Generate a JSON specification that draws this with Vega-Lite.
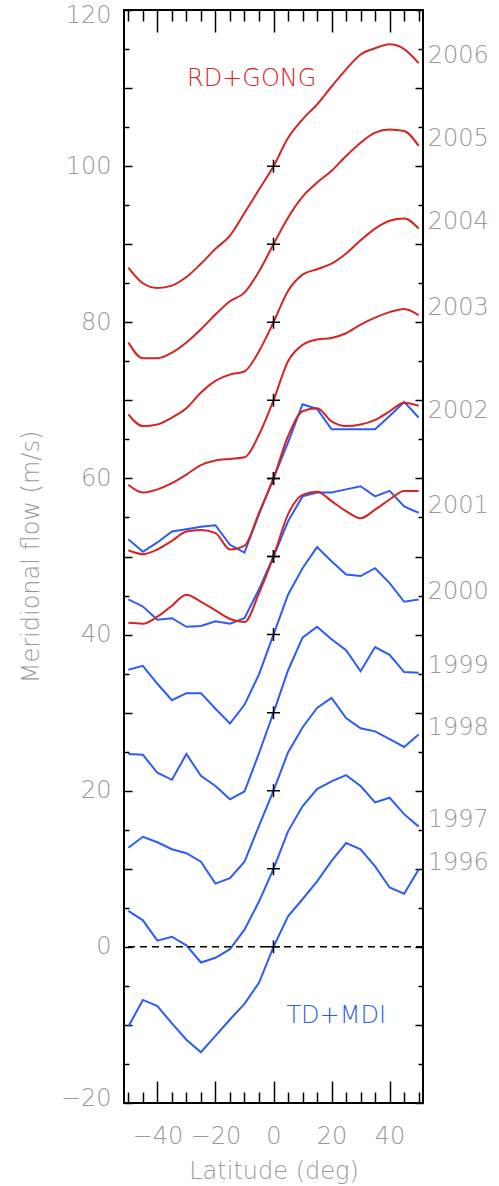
{
  "$schema": "https://vega.github.io/schema/vega-lite/v6.json",
  "width": 299,
  "height": 1093,
  "autosize": {"type": "none"},
  "padding": {"left": 124, "top": 10, "right": 76, "bottom": 83},
  "background": "white",
  "config": {
    "view": {"stroke": "black", "strokeWidth": 2},
    "font": "DejaVu Sans",
    "axis": {
      "domain": false,
      "grid": false,
      "tickColor": "black",
      "tickWidth": 1.5,
      "labelColor": "#999999",
      "labelFont": "DejaVu Sans",
      "labelFontSize": 24,
      "labelFontWeight": 200,
      "labelOverlap": false,
      "labelFlush": false,
      "titleColor": "#999999",
      "titleFont": "DejaVu Sans",
      "titleFontSize": 24,
      "titleFontWeight": 200
    }
  },
  "datasets": {
    "flow": [
      {"src": "TD+MDI", "year": 1996, "lat": -50, "v": -10.2}, {"src": "TD+MDI", "year": 1996, "lat": -45, "v": -6.8}, {"src": "TD+MDI", "year": 1996, "lat": -40, "v": -7.6}, {"src": "TD+MDI", "year": 1996, "lat": -35, "v": -9.8}, {"src": "TD+MDI", "year": 1996, "lat": -30, "v": -11.9}, {"src": "TD+MDI", "year": 1996, "lat": -25, "v": -13.5}, {"src": "TD+MDI", "year": 1996, "lat": -20, "v": -11.4}, {"src": "TD+MDI", "year": 1996, "lat": -15, "v": -9.3}, {"src": "TD+MDI", "year": 1996, "lat": -10, "v": -7.3}, {"src": "TD+MDI", "year": 1996, "lat": -5, "v": -4.6}, {"src": "TD+MDI", "year": 1996, "lat": 0, "v": 0}, {"src": "TD+MDI", "year": 1996, "lat": 5, "v": 3.9}, {"src": "TD+MDI", "year": 1996, "lat": 10, "v": 6.1}, {"src": "TD+MDI", "year": 1996, "lat": 15, "v": 8.4}, {"src": "TD+MDI", "year": 1996, "lat": 20, "v": 11.0}, {"src": "TD+MDI", "year": 1996, "lat": 25, "v": 13.3}, {"src": "TD+MDI", "year": 1996, "lat": 30, "v": 12.5}, {"src": "TD+MDI", "year": 1996, "lat": 35, "v": 10.3}, {"src": "TD+MDI", "year": 1996, "lat": 40, "v": 7.6}, {"src": "TD+MDI", "year": 1996, "lat": 45, "v": 6.8}, {"src": "TD+MDI", "year": 1996, "lat": 50, "v": 9.9},
      {"src": "TD+MDI", "year": 1997, "lat": -50, "v": 4.6}, {"src": "TD+MDI", "year": 1997, "lat": -45, "v": 3.4}, {"src": "TD+MDI", "year": 1997, "lat": -40, "v": 0.8}, {"src": "TD+MDI", "year": 1997, "lat": -35, "v": 1.3}, {"src": "TD+MDI", "year": 1997, "lat": -30, "v": 0.2}, {"src": "TD+MDI", "year": 1997, "lat": -25, "v": -2.0}, {"src": "TD+MDI", "year": 1997, "lat": -20, "v": -1.4}, {"src": "TD+MDI", "year": 1997, "lat": -15, "v": -0.3}, {"src": "TD+MDI", "year": 1997, "lat": -10, "v": 2.2}, {"src": "TD+MDI", "year": 1997, "lat": -5, "v": 5.8}, {"src": "TD+MDI", "year": 1997, "lat": 0, "v": 10}, {"src": "TD+MDI", "year": 1997, "lat": 5, "v": 14.8}, {"src": "TD+MDI", "year": 1997, "lat": 10, "v": 18.0}, {"src": "TD+MDI", "year": 1997, "lat": 15, "v": 20.2}, {"src": "TD+MDI", "year": 1997, "lat": 20, "v": 21.2}, {"src": "TD+MDI", "year": 1997, "lat": 25, "v": 22.0}, {"src": "TD+MDI", "year": 1997, "lat": 30, "v": 20.6}, {"src": "TD+MDI", "year": 1997, "lat": 35, "v": 18.5}, {"src": "TD+MDI", "year": 1997, "lat": 40, "v": 19.1}, {"src": "TD+MDI", "year": 1997, "lat": 45, "v": 17.0}, {"src": "TD+MDI", "year": 1997, "lat": 50, "v": 15.4},
      {"src": "TD+MDI", "year": 1998, "lat": -50, "v": 12.7}, {"src": "TD+MDI", "year": 1998, "lat": -45, "v": 14.1}, {"src": "TD+MDI", "year": 1998, "lat": -40, "v": 13.4}, {"src": "TD+MDI", "year": 1998, "lat": -35, "v": 12.5}, {"src": "TD+MDI", "year": 1998, "lat": -30, "v": 12.0}, {"src": "TD+MDI", "year": 1998, "lat": -25, "v": 10.9}, {"src": "TD+MDI", "year": 1998, "lat": -20, "v": 8.1}, {"src": "TD+MDI", "year": 1998, "lat": -15, "v": 8.8}, {"src": "TD+MDI", "year": 1998, "lat": -10, "v": 10.9}, {"src": "TD+MDI", "year": 1998, "lat": -5, "v": 15.5}, {"src": "TD+MDI", "year": 1998, "lat": 0, "v": 20}, {"src": "TD+MDI", "year": 1998, "lat": 5, "v": 24.9}, {"src": "TD+MDI", "year": 1998, "lat": 10, "v": 28.1}, {"src": "TD+MDI", "year": 1998, "lat": 15, "v": 30.6}, {"src": "TD+MDI", "year": 1998, "lat": 20, "v": 31.9}, {"src": "TD+MDI", "year": 1998, "lat": 25, "v": 29.3}, {"src": "TD+MDI", "year": 1998, "lat": 30, "v": 28.0}, {"src": "TD+MDI", "year": 1998, "lat": 35, "v": 27.6}, {"src": "TD+MDI", "year": 1998, "lat": 40, "v": 26.6}, {"src": "TD+MDI", "year": 1998, "lat": 45, "v": 25.6}, {"src": "TD+MDI", "year": 1998, "lat": 50, "v": 27.2},
      {"src": "TD+MDI", "year": 1999, "lat": -50, "v": 24.7}, {"src": "TD+MDI", "year": 1999, "lat": -45, "v": 24.6}, {"src": "TD+MDI", "year": 1999, "lat": -40, "v": 22.3}, {"src": "TD+MDI", "year": 1999, "lat": -35, "v": 21.4}, {"src": "TD+MDI", "year": 1999, "lat": -30, "v": 24.7}, {"src": "TD+MDI", "year": 1999, "lat": -25, "v": 21.9}, {"src": "TD+MDI", "year": 1999, "lat": -20, "v": 20.6}, {"src": "TD+MDI", "year": 1999, "lat": -15, "v": 18.9}, {"src": "TD+MDI", "year": 1999, "lat": -10, "v": 19.9}, {"src": "TD+MDI", "year": 1999, "lat": -5, "v": 24.8}, {"src": "TD+MDI", "year": 1999, "lat": 0, "v": 30}, {"src": "TD+MDI", "year": 1999, "lat": 5, "v": 35.4}, {"src": "TD+MDI", "year": 1999, "lat": 10, "v": 39.6}, {"src": "TD+MDI", "year": 1999, "lat": 15, "v": 41.0}, {"src": "TD+MDI", "year": 1999, "lat": 20, "v": 39.4}, {"src": "TD+MDI", "year": 1999, "lat": 25, "v": 38.0}, {"src": "TD+MDI", "year": 1999, "lat": 30, "v": 35.3}, {"src": "TD+MDI", "year": 1999, "lat": 35, "v": 38.4}, {"src": "TD+MDI", "year": 1999, "lat": 40, "v": 37.4}, {"src": "TD+MDI", "year": 1999, "lat": 45, "v": 35.2}, {"src": "TD+MDI", "year": 1999, "lat": 50, "v": 35.1},
      {"src": "TD+MDI", "year": 2000, "lat": -50, "v": 35.5}, {"src": "TD+MDI", "year": 2000, "lat": -45, "v": 36.0}, {"src": "TD+MDI", "year": 2000, "lat": -40, "v": 33.7}, {"src": "TD+MDI", "year": 2000, "lat": -35, "v": 31.6}, {"src": "TD+MDI", "year": 2000, "lat": -30, "v": 32.5}, {"src": "TD+MDI", "year": 2000, "lat": -25, "v": 32.5}, {"src": "TD+MDI", "year": 2000, "lat": -20, "v": 30.5}, {"src": "TD+MDI", "year": 2000, "lat": -15, "v": 28.6}, {"src": "TD+MDI", "year": 2000, "lat": -10, "v": 31.0}, {"src": "TD+MDI", "year": 2000, "lat": -5, "v": 34.9}, {"src": "TD+MDI", "year": 2000, "lat": 0, "v": 40}, {"src": "TD+MDI", "year": 2000, "lat": 5, "v": 45.1}, {"src": "TD+MDI", "year": 2000, "lat": 10, "v": 48.5}, {"src": "TD+MDI", "year": 2000, "lat": 15, "v": 51.2}, {"src": "TD+MDI", "year": 2000, "lat": 20, "v": 49.4}, {"src": "TD+MDI", "year": 2000, "lat": 25, "v": 47.7}, {"src": "TD+MDI", "year": 2000, "lat": 30, "v": 47.5}, {"src": "TD+MDI", "year": 2000, "lat": 35, "v": 48.5}, {"src": "TD+MDI", "year": 2000, "lat": 40, "v": 46.6}, {"src": "TD+MDI", "year": 2000, "lat": 45, "v": 44.2}, {"src": "TD+MDI", "year": 2000, "lat": 50, "v": 44.5},
      {"src": "TD+MDI", "year": 2001, "lat": -50, "v": 44.5}, {"src": "TD+MDI", "year": 2001, "lat": -45, "v": 43.6}, {"src": "TD+MDI", "year": 2001, "lat": -40, "v": 41.9}, {"src": "TD+MDI", "year": 2001, "lat": -35, "v": 42.1}, {"src": "TD+MDI", "year": 2001, "lat": -30, "v": 41.0}, {"src": "TD+MDI", "year": 2001, "lat": -25, "v": 41.1}, {"src": "TD+MDI", "year": 2001, "lat": -20, "v": 41.7}, {"src": "TD+MDI", "year": 2001, "lat": -15, "v": 41.4}, {"src": "TD+MDI", "year": 2001, "lat": -10, "v": 42.1}, {"src": "TD+MDI", "year": 2001, "lat": -5, "v": 45.8}, {"src": "TD+MDI", "year": 2001, "lat": 0, "v": 50}, {"src": "TD+MDI", "year": 2001, "lat": 5, "v": 54.5}, {"src": "TD+MDI", "year": 2001, "lat": 10, "v": 57.7}, {"src": "TD+MDI", "year": 2001, "lat": 15, "v": 58.2}, {"src": "TD+MDI", "year": 2001, "lat": 20, "v": 58.2}, {"src": "TD+MDI", "year": 2001, "lat": 25, "v": 58.6}, {"src": "TD+MDI", "year": 2001, "lat": 30, "v": 59.0}, {"src": "TD+MDI", "year": 2001, "lat": 35, "v": 57.7}, {"src": "TD+MDI", "year": 2001, "lat": 40, "v": 58.4}, {"src": "TD+MDI", "year": 2001, "lat": 45, "v": 56.4}, {"src": "TD+MDI", "year": 2001, "lat": 50, "v": 55.6},
      {"src": "TD+MDI", "year": 2002, "lat": -50, "v": 52.2}, {"src": "TD+MDI", "year": 2002, "lat": -45, "v": 50.6}, {"src": "TD+MDI", "year": 2002, "lat": -40, "v": 51.8}, {"src": "TD+MDI", "year": 2002, "lat": -35, "v": 53.2}, {"src": "TD+MDI", "year": 2002, "lat": -30, "v": 53.5}, {"src": "TD+MDI", "year": 2002, "lat": -25, "v": 53.8}, {"src": "TD+MDI", "year": 2002, "lat": -20, "v": 54.0}, {"src": "TD+MDI", "year": 2002, "lat": -15, "v": 51.5}, {"src": "TD+MDI", "year": 2002, "lat": -10, "v": 50.5}, {"src": "TD+MDI", "year": 2002, "lat": -5, "v": 55.4}, {"src": "TD+MDI", "year": 2002, "lat": 0, "v": 60}, {"src": "TD+MDI", "year": 2002, "lat": 5, "v": 64.6}, {"src": "TD+MDI", "year": 2002, "lat": 10, "v": 69.5}, {"src": "TD+MDI", "year": 2002, "lat": 15, "v": 68.9}, {"src": "TD+MDI", "year": 2002, "lat": 20, "v": 66.3}, {"src": "TD+MDI", "year": 2002, "lat": 25, "v": 66.3}, {"src": "TD+MDI", "year": 2002, "lat": 30, "v": 66.3}, {"src": "TD+MDI", "year": 2002, "lat": 35, "v": 66.3}, {"src": "TD+MDI", "year": 2002, "lat": 40, "v": 68.0}, {"src": "TD+MDI", "year": 2002, "lat": 45, "v": 69.8}, {"src": "TD+MDI", "year": 2002, "lat": 50, "v": 67.8},
      {"src": "RD+GONG", "year": 2001, "lat": -50, "v": 41.5}, {"src": "RD+GONG", "year": 2001, "lat": -45, "v": 41.4}, {"src": "RD+GONG", "year": 2001, "lat": -40, "v": 42.3}, {"src": "RD+GONG", "year": 2001, "lat": -35, "v": 43.7}, {"src": "RD+GONG", "year": 2001, "lat": -30, "v": 45.1}, {"src": "RD+GONG", "year": 2001, "lat": -25, "v": 44.2}, {"src": "RD+GONG", "year": 2001, "lat": -20, "v": 43.1}, {"src": "RD+GONG", "year": 2001, "lat": -15, "v": 42.0}, {"src": "RD+GONG", "year": 2001, "lat": -10, "v": 41.6}, {"src": "RD+GONG", "year": 2001, "lat": -5, "v": 45.3}, {"src": "RD+GONG", "year": 2001, "lat": 0, "v": 50}, {"src": "RD+GONG", "year": 2001, "lat": 5, "v": 55.4}, {"src": "RD+GONG", "year": 2001, "lat": 10, "v": 57.9}, {"src": "RD+GONG", "year": 2001, "lat": 15, "v": 58.3}, {"src": "RD+GONG", "year": 2001, "lat": 20, "v": 57.1}, {"src": "RD+GONG", "year": 2001, "lat": 25, "v": 55.8}, {"src": "RD+GONG", "year": 2001, "lat": 30, "v": 54.9}, {"src": "RD+GONG", "year": 2001, "lat": 35, "v": 56.0}, {"src": "RD+GONG", "year": 2001, "lat": 40, "v": 57.3}, {"src": "RD+GONG", "year": 2001, "lat": 45, "v": 58.4}, {"src": "RD+GONG", "year": 2001, "lat": 50, "v": 58.4},
      {"src": "RD+GONG", "year": 2002, "lat": -50, "v": 50.8}, {"src": "RD+GONG", "year": 2002, "lat": -45, "v": 50.3}, {"src": "RD+GONG", "year": 2002, "lat": -40, "v": 50.9}, {"src": "RD+GONG", "year": 2002, "lat": -35, "v": 52.0}, {"src": "RD+GONG", "year": 2002, "lat": -30, "v": 53.2}, {"src": "RD+GONG", "year": 2002, "lat": -25, "v": 53.4}, {"src": "RD+GONG", "year": 2002, "lat": -20, "v": 53.0}, {"src": "RD+GONG", "year": 2002, "lat": -15, "v": 50.9}, {"src": "RD+GONG", "year": 2002, "lat": -10, "v": 51.4}, {"src": "RD+GONG", "year": 2002, "lat": -5, "v": 55.6}, {"src": "RD+GONG", "year": 2002, "lat": 0, "v": 60}, {"src": "RD+GONG", "year": 2002, "lat": 5, "v": 65.4}, {"src": "RD+GONG", "year": 2002, "lat": 10, "v": 68.6}, {"src": "RD+GONG", "year": 2002, "lat": 15, "v": 69.0}, {"src": "RD+GONG", "year": 2002, "lat": 20, "v": 67.3}, {"src": "RD+GONG", "year": 2002, "lat": 25, "v": 66.7}, {"src": "RD+GONG", "year": 2002, "lat": 30, "v": 66.9}, {"src": "RD+GONG", "year": 2002, "lat": 35, "v": 67.5}, {"src": "RD+GONG", "year": 2002, "lat": 40, "v": 68.6}, {"src": "RD+GONG", "year": 2002, "lat": 45, "v": 69.7}, {"src": "RD+GONG", "year": 2002, "lat": 50, "v": 69.3},
      {"src": "RD+GONG", "year": 2003, "lat": -50, "v": 59.2}, {"src": "RD+GONG", "year": 2003, "lat": -45, "v": 58.2}, {"src": "RD+GONG", "year": 2003, "lat": -40, "v": 58.6}, {"src": "RD+GONG", "year": 2003, "lat": -35, "v": 59.4}, {"src": "RD+GONG", "year": 2003, "lat": -30, "v": 60.5}, {"src": "RD+GONG", "year": 2003, "lat": -25, "v": 61.7}, {"src": "RD+GONG", "year": 2003, "lat": -20, "v": 62.3}, {"src": "RD+GONG", "year": 2003, "lat": -15, "v": 62.5}, {"src": "RD+GONG", "year": 2003, "lat": -10, "v": 62.7}, {"src": "RD+GONG", "year": 2003, "lat": -5, "v": 65.6}, {"src": "RD+GONG", "year": 2003, "lat": 0, "v": 70}, {"src": "RD+GONG", "year": 2003, "lat": 5, "v": 75.0}, {"src": "RD+GONG", "year": 2003, "lat": 10, "v": 77.1}, {"src": "RD+GONG", "year": 2003, "lat": 15, "v": 77.8}, {"src": "RD+GONG", "year": 2003, "lat": 20, "v": 78.0}, {"src": "RD+GONG", "year": 2003, "lat": 25, "v": 78.6}, {"src": "RD+GONG", "year": 2003, "lat": 30, "v": 79.7}, {"src": "RD+GONG", "year": 2003, "lat": 35, "v": 80.6}, {"src": "RD+GONG", "year": 2003, "lat": 40, "v": 81.3}, {"src": "RD+GONG", "year": 2003, "lat": 45, "v": 81.7}, {"src": "RD+GONG", "year": 2003, "lat": 50, "v": 80.9},
      {"src": "RD+GONG", "year": 2004, "lat": -50, "v": 68.2}, {"src": "RD+GONG", "year": 2004, "lat": -45, "v": 66.7}, {"src": "RD+GONG", "year": 2004, "lat": -40, "v": 66.9}, {"src": "RD+GONG", "year": 2004, "lat": -35, "v": 67.8}, {"src": "RD+GONG", "year": 2004, "lat": -30, "v": 69.0}, {"src": "RD+GONG", "year": 2004, "lat": -25, "v": 71.0}, {"src": "RD+GONG", "year": 2004, "lat": -20, "v": 72.5}, {"src": "RD+GONG", "year": 2004, "lat": -15, "v": 73.3}, {"src": "RD+GONG", "year": 2004, "lat": -10, "v": 73.7}, {"src": "RD+GONG", "year": 2004, "lat": -5, "v": 76.3}, {"src": "RD+GONG", "year": 2004, "lat": 0, "v": 80}, {"src": "RD+GONG", "year": 2004, "lat": 5, "v": 84.0}, {"src": "RD+GONG", "year": 2004, "lat": 10, "v": 86.1}, {"src": "RD+GONG", "year": 2004, "lat": 15, "v": 86.8}, {"src": "RD+GONG", "year": 2004, "lat": 20, "v": 87.5}, {"src": "RD+GONG", "year": 2004, "lat": 25, "v": 88.8}, {"src": "RD+GONG", "year": 2004, "lat": 30, "v": 90.5}, {"src": "RD+GONG", "year": 2004, "lat": 35, "v": 92.0}, {"src": "RD+GONG", "year": 2004, "lat": 40, "v": 93.0}, {"src": "RD+GONG", "year": 2004, "lat": 45, "v": 93.3}, {"src": "RD+GONG", "year": 2004, "lat": 50, "v": 92.0},
      {"src": "RD+GONG", "year": 2005, "lat": -50, "v": 77.4}, {"src": "RD+GONG", "year": 2005, "lat": -45, "v": 75.4}, {"src": "RD+GONG", "year": 2005, "lat": -40, "v": 75.4}, {"src": "RD+GONG", "year": 2005, "lat": -35, "v": 76.1}, {"src": "RD+GONG", "year": 2005, "lat": -30, "v": 77.4}, {"src": "RD+GONG", "year": 2005, "lat": -25, "v": 79.1}, {"src": "RD+GONG", "year": 2005, "lat": -20, "v": 81.0}, {"src": "RD+GONG", "year": 2005, "lat": -15, "v": 82.7}, {"src": "RD+GONG", "year": 2005, "lat": -10, "v": 83.8}, {"src": "RD+GONG", "year": 2005, "lat": -5, "v": 86.5}, {"src": "RD+GONG", "year": 2005, "lat": 0, "v": 90}, {"src": "RD+GONG", "year": 2005, "lat": 5, "v": 93.4}, {"src": "RD+GONG", "year": 2005, "lat": 10, "v": 96.1}, {"src": "RD+GONG", "year": 2005, "lat": 15, "v": 97.9}, {"src": "RD+GONG", "year": 2005, "lat": 20, "v": 99.4}, {"src": "RD+GONG", "year": 2005, "lat": 25, "v": 101.3}, {"src": "RD+GONG", "year": 2005, "lat": 30, "v": 103.0}, {"src": "RD+GONG", "year": 2005, "lat": 35, "v": 104.3}, {"src": "RD+GONG", "year": 2005, "lat": 40, "v": 104.7}, {"src": "RD+GONG", "year": 2005, "lat": 45, "v": 104.5}, {"src": "RD+GONG", "year": 2005, "lat": 50, "v": 102.6},
      {"src": "RD+GONG", "year": 2006, "lat": -50, "v": 87.0}, {"src": "RD+GONG", "year": 2006, "lat": -45, "v": 85.0}, {"src": "RD+GONG", "year": 2006, "lat": -40, "v": 84.4}, {"src": "RD+GONG", "year": 2006, "lat": -35, "v": 84.7}, {"src": "RD+GONG", "year": 2006, "lat": -30, "v": 85.8}, {"src": "RD+GONG", "year": 2006, "lat": -25, "v": 87.5}, {"src": "RD+GONG", "year": 2006, "lat": -20, "v": 89.4}, {"src": "RD+GONG", "year": 2006, "lat": -15, "v": 91.1}, {"src": "RD+GONG", "year": 2006, "lat": -10, "v": 94.0}, {"src": "RD+GONG", "year": 2006, "lat": -5, "v": 97.0}, {"src": "RD+GONG", "year": 2006, "lat": 0, "v": 100}, {"src": "RD+GONG", "year": 2006, "lat": 5, "v": 103.6}, {"src": "RD+GONG", "year": 2006, "lat": 10, "v": 106.0}, {"src": "RD+GONG", "year": 2006, "lat": 15, "v": 107.9}, {"src": "RD+GONG", "year": 2006, "lat": 20, "v": 110.2}, {"src": "RD+GONG", "year": 2006, "lat": 25, "v": 112.4}, {"src": "RD+GONG", "year": 2006, "lat": 30, "v": 114.3}, {"src": "RD+GONG", "year": 2006, "lat": 35, "v": 115.1}, {"src": "RD+GONG", "year": 2006, "lat": 40, "v": 115.6}, {"src": "RD+GONG", "year": 2006, "lat": 45, "v": 115.0}, {"src": "RD+GONG", "year": 2006, "lat": 50, "v": 113.2}
    ]
  },
  "data": {"name": "flow"},
  "layer": [
    {
      "transform": [{"filter": "datum.src === 'TD+MDI'"}],
      "mark": {"type": "line", "strokeWidth": 2},
      "encoding": {
        "x": {
          "field": "lat", "type": "quantitative",
          "scale": {"domain": [-51.5, 51.5], "nice": false, "zero": false},
          "axis": {
            "orient": "bottom",
            "values": [-50, -45, -40, -35, -30, -25, -20, -15, -10, -5, 0, 5, 10, 15, 20, 25, 30, 35, 40, 45, 50],
            "labelExpr": "datum.value % 20 === 0 ? datum.label : ''",
            "tickSize": {"condition": {"test": "datum.value % 20 === 0", "value": -22}, "value": -11},
            "labelPadding": 43,
            "title": "Latitude (deg)",
            "titlePadding": 0
          }
        },
        "y": {
          "field": "v", "type": "quantitative",
          "scale": {"domain": [-20, 120], "nice": false, "zero": false},
          "axis": {
            "orient": "left",
            "values": [-20, -15, -10, -5, 0, 5, 10, 15, 20, 25, 30, 35, 40, 45, 50, 55, 60, 65, 70, 75, 80, 85, 90, 95, 100, 105, 110, 115, 120],
            "labelExpr": "datum.value % 20 === 0 ? datum.label : ''",
            "labelFlush": true,
            "labelFlushOffset": 7,
            "tickSize": {"condition": {"test": "datum.value % 10 === 0", "value": -8}, "value": -5},
            "labelPadding": 21,
            "title": "Meridional flow (m/s)",
            "titlePadding": 17
          }
        },
        "color": {
          "field": "src", "type": "nominal",
          "scale": {"domain": ["RD+GONG", "TD+MDI"], "range": ["#d42424", "#2d5cf2"]},
          "legend": null
        },
        "detail": {"field": "year"}
      }
    },
    {
      "transform": [{"filter": "datum.src === 'RD+GONG'"}],
      "mark": {"type": "line", "strokeWidth": 2, "interpolate": "monotone"},
      "encoding": {
        "x": {"field": "lat", "type": "quantitative", "axis": null},
        "y": {"field": "v", "type": "quantitative", "axis": null},
        "color": {"field": "src", "type": "nominal", "legend": null},
        "detail": {"field": "year"}
      }
    },
    {
      "transform": [{"filter": "datum.lat === 0"}],
      "mark": {"type": "point", "shape": "M-1,0L1,0M0,-1L0,1", "size": 169, "filled": false, "color": "black", "strokeWidth": 1.5, "opacity": 1},
      "encoding": {
        "x": {
          "field": "lat", "type": "quantitative",
          "axis": {
            "orient": "top",
            "values": [-50, -45, -40, -35, -30, -25, -20, -15, -10, -5, 0, 5, 10, 15, 20, 25, 30, 35, 40, 45, 50],
            "labels": false,
            "tickSize": {"condition": {"test": "datum.value % 20 === 0", "value": -22}, "value": -11},
            "title": null
          }
        },
        "y": {
          "field": "v", "type": "quantitative",
          "axis": {
            "orient": "right",
            "values": [-20, -15, -10, -5, 0, 5, 10, 15, 20, 25, 30, 35, 40, 45, 50, 55, 60, 65, 70, 75, 80, 85, 90, 95, 100, 105, 110, 115, 120],
            "labels": false,
            "tickSize": {"condition": {"test": "datum.value % 10 === 0", "value": -8}, "value": -5},
            "title": null
          }
        }
      }
    },
    {
      "data": {"values": [{"v": 0}]},
      "mark": {"type": "rule", "color": "black", "strokeWidth": 1.5, "strokeDash": [7, 5]},
      "encoding": {"y": {"field": "v", "type": "quantitative", "axis": null}}
    },
    {
      "transform": [{"filter": "datum.lat === 50 && (datum.src === 'TD+MDI' || datum.year > 2002)"}],
      "mark": {"type": "text", "align": "left", "baseline": "middle", "dx": 9, "dy": -7, "fontSize": 24, "fontWeight": 200, "color": "#999999", "font": "DejaVu Sans"},
      "encoding": {
        "x": {"field": "lat", "type": "quantitative", "axis": null},
        "y": {"field": "v", "type": "quantitative", "axis": null},
        "text": {"field": "year", "type": "nominal"}
      }
    },
    {
      "data": {"values": [{"label": "RD+GONG", "lat": -7.5, "v": 111.1, "src": "RD+GONG"}, {"label": "TD+MDI", "lat": 21.6, "v": -8.8, "src": "TD+MDI"}]},
      "mark": {"type": "text", "align": "center", "baseline": "middle", "fontSize": 24, "fontWeight": 200, "font": "DejaVu Sans"},
      "encoding": {
        "x": {"field": "lat", "type": "quantitative", "axis": null},
        "y": {"field": "v", "type": "quantitative", "axis": null},
        "text": {"field": "label"},
        "color": {"field": "src", "type": "nominal", "legend": null}
      }
    }
  ],
  "resolve": {"axis": {"x": "independent", "y": "independent"}}
}
